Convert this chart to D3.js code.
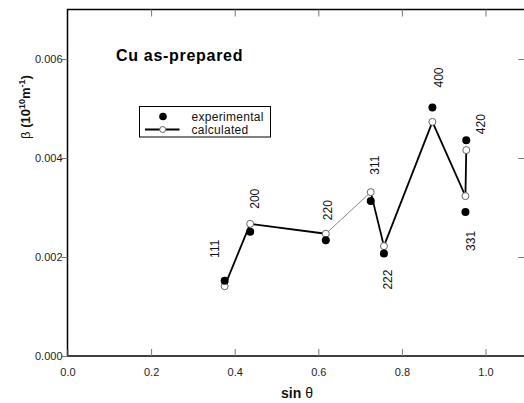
<!DOCTYPE html>
<html>
<head>
<meta charset="utf-8">
<script src="https://cdn.jsdelivr.net/npm/d3@7"></script>
<style>
  html, body { margin: 0; padding: 0; background: #fff; }
  svg { display: block; font-family: "Liberation Sans", Arial, sans-serif; }
</style>
</head>
<body>
<svg id="chart" width="524" height="403"></svg>
<script>
// Reflections (hkl), in plotting order along the calculated curve
const reflections = ["111", "200", "220", "311", "222", "400", "331", "420"];
// sin(theta) of each reflection
const sinTheta = [0.376, 0.437, 0.618, 0.7255, 0.757, 0.873, 0.952, 0.954];
// Integral breadth beta (10^10 m^-1)
const betaExperimental = [0.00152, 0.00251, 0.00234, 0.00313, 0.00207, 0.00502, 0.00291, 0.00436];
const betaCalculated   = [0.00141, 0.00267, 0.00247, 0.00331, 0.00222, 0.00473, 0.00323, 0.00416];
// Axis ticks
const xTicks = [0.0, 0.2, 0.4, 0.6, 0.8, 1.0];
const yTicks = [0.000, 0.002, 0.004, 0.006];

// Label placement (pixel offsets from the experimental point)
const labelOffsets = [[-10, -32], [5, -33], [2, -30], [4, -36], [4, 26], [6, -30], [5, 29], [15, -16]];
// The 220 -> 311 leg of the calculated curve is drawn as a thin line
const thinLegs = [2];

const svg = d3.select("#chart");
const x = d3.scaleLinear().domain([0, 1.1]).range([67.5, 527.3]);
const y = d3.scaleLinear().domain([0, 0.007]).range([356, 9.5]);

const [x0, x1] = x.range();
const [y0, y1] = y.range();

// Frame
svg.append("rect")
  .attr("x", x0).attr("y", y1)
  .attr("width", x1 - x0).attr("height", y0 - y1)
  .attr("fill", "none").attr("stroke", "#000").attr("stroke-width", 1.5);

// Bottom axis: inward ticks
const axisB = svg.append("g").attr("transform", `translate(0,${y0})`)
  .call(d3.axisBottom(x).tickValues(xTicks).tickSize(-7).tickPadding(12).tickFormat(d3.format(".1f")));
axisB.select(".domain").remove();
axisB.selectAll(".tick line").attr("stroke", "#777").attr("stroke-width", 1);
axisB.selectAll(".tick text").attr("font-size", 11).attr("fill", "#222")
  .attr("font-family", "'Liberation Sans', Arial, sans-serif");

// Top axis: inward ticks, no labels
const axisT = svg.append("g").attr("transform", `translate(0,${y1})`)
  .call(d3.axisTop(x).tickValues(xTicks.filter(d => d > 0)).tickSize(-7).tickFormat(""));
axisT.select(".domain").remove();
axisT.selectAll(".tick line").attr("stroke", "#777").attr("stroke-width", 1);

// Left axis: outward ticks
const axisL = svg.append("g").attr("transform", `translate(${x0},0)`)
  .call(d3.axisLeft(y).tickValues(yTicks).tickSize(6).tickPadding(-1).tickFormat(d3.format(".3f")));
axisL.select(".domain").remove();
axisL.selectAll(".tick line").attr("stroke", "#777").attr("stroke-width", 1);
axisL.selectAll(".tick text").attr("font-size", 11).attr("fill", "#222")
  .attr("font-family", "'Liberation Sans', Arial, sans-serif");

// Right axis: inward ticks
const axisR = svg.append("g").attr("transform", `translate(${x1},0)`)
  .call(d3.axisRight(y).tickValues(yTicks.filter(d => d > 0)).tickSize(-9).tickFormat(""));
axisR.select(".domain").remove();
axisR.selectAll(".tick line").attr("stroke", "#777").attr("stroke-width", 1);

// Axis titles
const xTitle = svg.append("text")
  .attr("x", 297).attr("y", 398)
  .attr("text-anchor", "middle").attr("font-size", 14).attr("fill", "#111");
xTitle.append("tspan").attr("font-weight", "bold").text("sin ");
xTitle.append("tspan").attr("font-weight", "normal").text("θ");

const yTitle = svg.append("text")
  .attr("transform", "translate(30,107) rotate(-90)")
  .attr("text-anchor", "middle").attr("font-size", 13).attr("fill", "#111");
yTitle.append("tspan").text("β ");
yTitle.append("tspan").attr("font-weight", "bold").text("(10");
yTitle.append("tspan").attr("font-weight", "bold").attr("font-size", 9).attr("dy", -5).text("10");
yTitle.append("tspan").attr("font-weight", "bold").attr("dy", 5).text("m");
yTitle.append("tspan").attr("font-weight", "bold").attr("font-size", 9).attr("dy", -5).text("-1");
yTitle.append("tspan").attr("font-weight", "bold").attr("dy", 5).text(")");

// Sample title
svg.append("text")
  .attr("x", 116).attr("y", 61)
  .attr("font-size", 16).attr("font-weight", "bold").attr("letter-spacing", 0.7)
  .attr("fill", "#000")
  .text("Cu as-prepared");

// Calculated curve, drawn leg by leg
const calcPts = sinTheta.map((s, i) => [s, betaCalculated[i]]);
const legs = d3.pairs(calcPts);
svg.append("g").selectAll("line").data(legs).join("line")
  .attr("x1", d => x(d[0][0])).attr("y1", d => y(d[0][1]))
  .attr("x2", d => x(d[1][0])).attr("y2", d => y(d[1][1]))
  .attr("stroke", (d, i) => thinLegs.includes(i) ? "#666" : "#000")
  .attr("stroke-width", (d, i) => thinLegs.includes(i) ? 0.8 : 1.8);

// Calculated points (open circles)
svg.append("g").selectAll("circle").data(calcPts).join("circle")
  .attr("cx", d => x(d[0])).attr("cy", d => y(d[1])).attr("r", 3.5)
  .attr("fill", "#fff").attr("stroke", "#666").attr("stroke-width", 1);

// Experimental points (filled circles)
svg.append("g").selectAll("circle").data(sinTheta.map((s, i) => [s, betaExperimental[i]])).join("circle")
  .attr("cx", d => x(d[0])).attr("cy", d => y(d[1])).attr("r", 4)
  .attr("fill", "#000");

// Reflection labels, rotated
svg.append("g").selectAll("text").data(reflections).join("text")
  .attr("transform", (d, i) => {
    const px = x(sinTheta[i]) + labelOffsets[i][0];
    const py = y(betaExperimental[i]) + labelOffsets[i][1];
    return `translate(${px},${py}) rotate(-90)`;
  })
  .attr("text-anchor", "middle").attr("dy", "0.35em")
  .attr("font-size", 12).attr("fill", "#111")
  .text(d => d);

// Legend
const legend = svg.append("g");
const rowExp = 116.5, rowCalc = 129.5;
legend.append("rect")
  .attr("x", 139.5).attr("y", 106.5).attr("width", 131).attr("height", 30.5)
  .attr("fill", "#fff").attr("stroke", "#000").attr("stroke-width", 1);
legend.append("circle").attr("cx", 163).attr("cy", rowExp).attr("r", 3.8).attr("fill", "#000");
legend.append("line").attr("x1", 145).attr("x2", 179.5).attr("y1", rowCalc).attr("y2", rowCalc)
  .attr("stroke", "#000").attr("stroke-width", 1.8);
legend.append("circle").attr("cx", 162.7).attr("cy", rowCalc).attr("r", 3)
  .attr("fill", "#fff").attr("stroke", "#666").attr("stroke-width", 1);
legend.append("text").attr("x", 191.5).attr("y", rowExp).attr("dy", "0.35em")
  .attr("font-size", 12).attr("letter-spacing", 0.3).attr("fill", "#111").text("experimental");
legend.append("text").attr("x", 191.5).attr("y", rowCalc).attr("dy", "0.35em")
  .attr("font-size", 12).attr("letter-spacing", 0.3).attr("fill", "#111").text("calculated");
</script>
</body>
</html>
